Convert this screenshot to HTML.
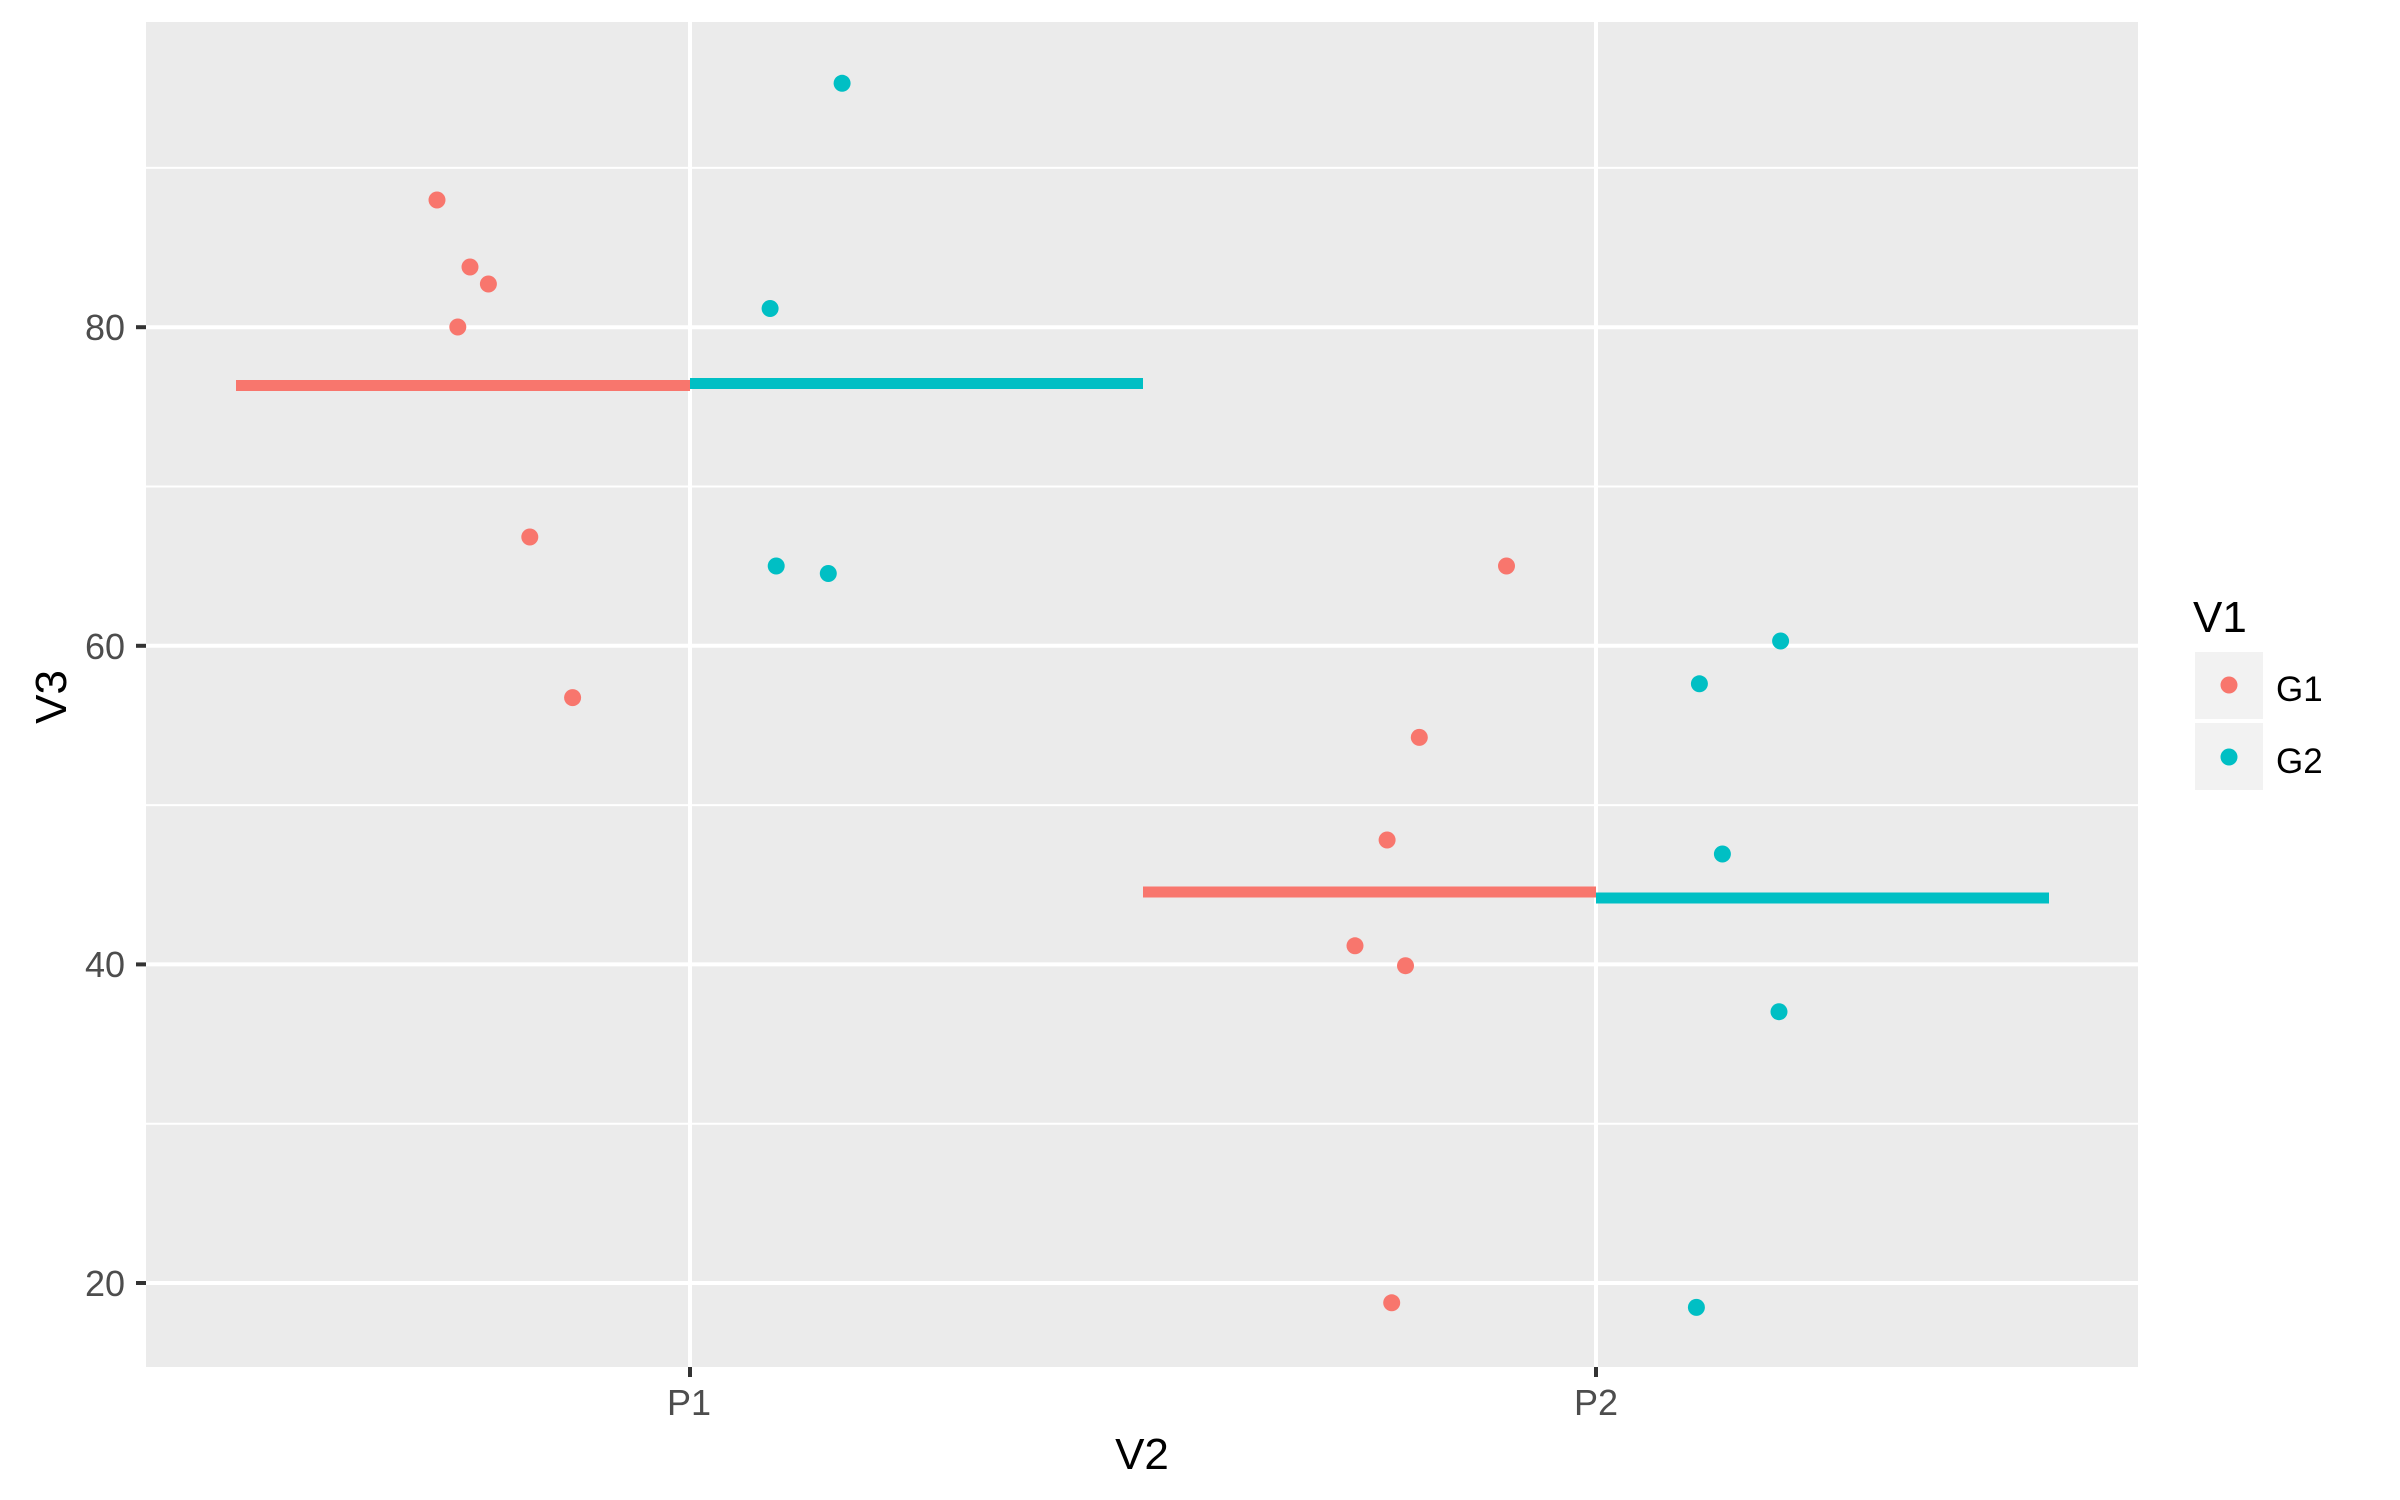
<!DOCTYPE html>
<html><head><style>html,body{margin:0;padding:0;background:#fff;}svg{display:block}</style></head>
<body>
<svg width="2400" height="1500" xmlns="http://www.w3.org/2000/svg" font-family="Liberation Sans, Arial, sans-serif">
<rect x="0" y="0" width="2400" height="1500" fill="#fff"/>
<rect x="146" y="22" width="1992" height="1345" fill="#ebebeb"/>
<g stroke="#fff" stroke-width="2">
<line x1="146" x2="2138" y1="1123.7" y2="1123.7"/>
<line x1="146" x2="2138" y1="805.1" y2="805.1"/>
<line x1="146" x2="2138" y1="486.5" y2="486.5"/>
<line x1="146" x2="2138" y1="167.9" y2="167.9"/>
</g>
<g stroke="#fff" stroke-width="4">
<line x1="146" x2="2138" y1="1283" y2="1283"/>
<line x1="146" x2="2138" y1="964.4" y2="964.4"/>
<line x1="146" x2="2138" y1="645.8" y2="645.8"/>
<line x1="146" x2="2138" y1="327.2" y2="327.2"/>
<line x1="690" x2="690" y1="22" y2="1367"/>
<line x1="1596" x2="1596" y1="22" y2="1367"/>
</g>
<g stroke-width="11">
<line x1="236" x2="690" y1="385.5" y2="385.5" stroke="#f8766d"/>
<line x1="690" x2="1143" y1="383.5" y2="383.5" stroke="#00bfc4"/>
<line x1="1143" x2="1596" y1="892" y2="892" stroke="#f8766d"/>
<line x1="1596" x2="2049" y1="898" y2="898" stroke="#00bfc4"/>
</g>
<g fill="#f8766d">
<circle cx="437" cy="200" r="8.5"/>
<circle cx="470" cy="267" r="8.5"/>
<circle cx="488.4" cy="284" r="8.5"/>
<circle cx="457.8" cy="327" r="8.5"/>
<circle cx="529.8" cy="537" r="8.5"/>
<circle cx="572.6" cy="697.6" r="8.5"/>
<circle cx="1506.5" cy="566" r="8.5"/>
<circle cx="1419.3" cy="737.4" r="8.5"/>
<circle cx="1387.1" cy="840" r="8.5"/>
<circle cx="1355" cy="945.8" r="8.5"/>
<circle cx="1405.5" cy="965.7" r="8.5"/>
<circle cx="1391.7" cy="1302.8" r="8.5"/>
</g>
<g fill="#00bfc4">
<circle cx="842.1" cy="83.3" r="8.5"/>
<circle cx="770.1" cy="308.5" r="8.5"/>
<circle cx="776.2" cy="566" r="8.5"/>
<circle cx="828.3" cy="573.5" r="8.5"/>
<circle cx="1780.6" cy="641" r="8.5"/>
<circle cx="1699.4" cy="683.8" r="8.5"/>
<circle cx="1722.4" cy="854" r="8.5"/>
<circle cx="1779" cy="1011.7" r="8.5"/>
<circle cx="1696.4" cy="1307.4" r="8.5"/>
</g>
<g stroke="#333" stroke-width="4">
<line x1="136" x2="146" y1="1283" y2="1283"/>
<line x1="136" x2="146" y1="964.4" y2="964.4"/>
<line x1="136" x2="146" y1="645.8" y2="645.8"/>
<line x1="136" x2="146" y1="327.2" y2="327.2"/>
<line x1="690" x2="690" y1="1367" y2="1377"/>
<line x1="1596" x2="1596" y1="1367" y2="1377"/>
</g>
<g fill="#4d4d4d" font-size="36" text-anchor="end">
<text x="125" y="1296">20</text>
<text x="125" y="977">40</text>
<text x="125" y="659">60</text>
<text x="125" y="340">80</text>
</g>
<g fill="#4d4d4d" font-size="36" text-anchor="middle">
<text x="689" y="1415">P1</text>
<text x="1596" y="1415">P2</text>
</g>
<text x="1142" y="1469" font-size="44" text-anchor="middle" fill="#000">V2</text>
<text transform="translate(66,697) rotate(-90)" font-size="44" text-anchor="middle" fill="#000">V3</text>
<text x="2193" y="632" font-size="44" fill="#000">V1</text>
<rect x="2195" y="652" width="68" height="67" fill="#f2f2f2"/>
<rect x="2195" y="723" width="68" height="67" fill="#f2f2f2"/>
<circle cx="2229" cy="685" r="8.5" fill="#f8766d"/>
<circle cx="2229" cy="757" r="8.5" fill="#00bfc4"/>
<text x="2276" y="701" font-size="35" fill="#000">G1</text>
<text x="2276" y="773" font-size="35" fill="#000">G2</text>
</svg>
</body></html>
